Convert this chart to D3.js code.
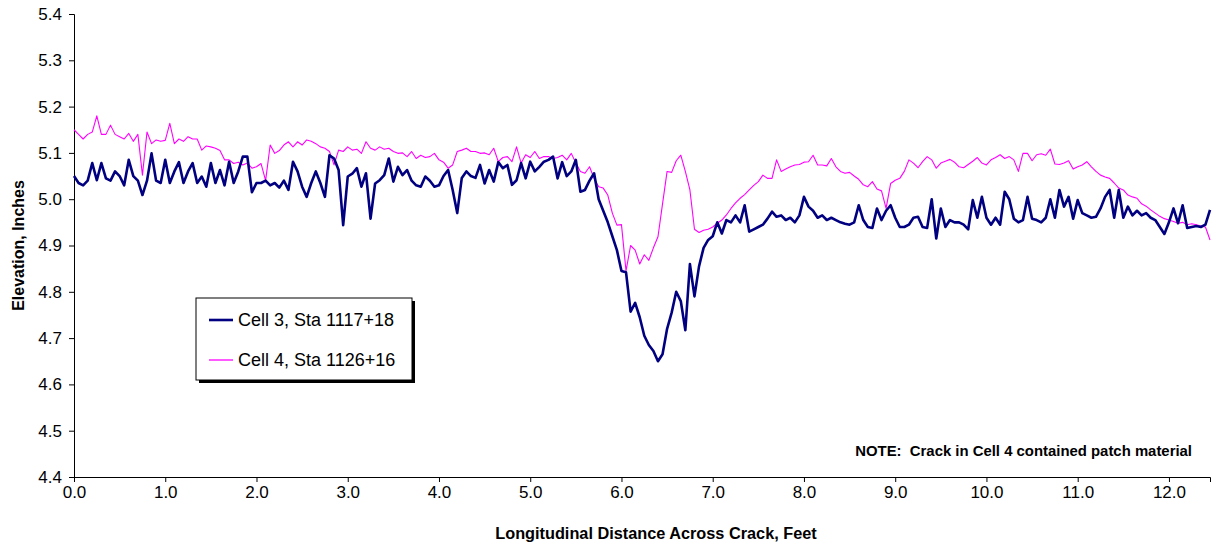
<!DOCTYPE html>
<html>
<head>
<meta charset="utf-8">
<script src="https://cdn.jsdelivr.net/npm/d3@7"></script>
<style>
  body { margin: 0; background: #fff; }
  svg { display: block; font-family: "Liberation Sans", Arial, sans-serif; }
  .axis path, .axis line { stroke: #000; }
  .axis text { font-size: 17px; fill: #000; }
</style>
</head>
<body>
<svg id="chart" width="1212" height="548"></svg>
<script>
// sample spacing along the profile, feet
const step = 0.05;

// Cell 3, Sta 1117+18 (elevation, inches) from 0.00 to 12.45 ft
const cell3 = [
  5.05, 5.035, 5.03, 5.04, 5.078, 5.041, 5.078, 5.045, 5.04, 5.06,
  5.05, 5.03, 5.085, 5.05, 5.04, 5.009, 5.04, 5.099, 5.04, 5.035,
  5.085, 5.035, 5.06, 5.08, 5.035, 5.06, 5.078, 5.035, 5.049, 5.027,
  5.078, 5.035, 5.063, 5.03, 5.081, 5.035, 5.06, 5.092, 5.092, 5.015,
  5.035, 5.035, 5.04, 5.03, 5.035, 5.025, 5.04, 5.02, 5.081, 5.06,
  5.027, 5.005, 5.035, 5.06, 5.035, 5.005, 5.095, 5.088, 5.063, 4.944,
  5.049, 5.055, 5.067, 5.027, 5.056, 4.958, 5.034, 5.041, 5.052, 5.088,
  5.038, 5.07, 5.052, 5.063, 5.04, 5.03, 5.027, 5.049, 5.04, 5.027,
  5.03, 5.05, 5.063, 5.02, 4.97, 5.046, 5.06, 5.05, 5.046, 5.074,
  5.034, 5.063, 5.038, 5.08, 5.067, 5.074, 5.031, 5.041, 5.078, 5.045,
  5.081, 5.06, 5.07, 5.081, 5.085, 5.092, 5.045, 5.08, 5.05, 5.06,
  5.085, 5.016, 5.02, 5.04, 5.056, 5.0, 4.975, 4.95, 4.92, 4.89,
  4.845, 4.842, 4.757, 4.776, 4.745, 4.705, 4.685, 4.672, 4.65, 4.665,
  4.72, 4.755, 4.80, 4.78, 4.717, 4.86, 4.79, 4.855, 4.895, 4.912,
  4.92, 4.95, 4.926, 4.955, 4.95, 4.965, 4.95, 4.987, 4.93, 4.935,
  4.94, 4.945, 4.958, 4.973, 4.962, 4.965, 4.955, 4.96, 4.95, 4.965,
  5.005, 4.984, 4.975, 4.96, 4.965, 4.955, 4.96, 4.955, 4.95, 4.947,
  4.945, 4.95, 4.987, 4.955, 4.94, 4.938, 4.98, 4.955, 4.975, 4.987,
  4.96, 4.94, 4.94, 4.945, 4.96, 4.962, 4.94, 4.938, 5.0, 4.915,
  4.98, 4.94, 4.955, 4.95, 4.95, 4.945, 4.935, 4.998, 4.96, 5.005,
  4.96, 4.945, 4.96, 4.945, 5.016, 5.0, 4.958, 4.95, 4.955, 5.005,
  4.958, 4.955, 4.95, 4.96, 5.0, 4.96, 5.02, 4.984, 5.005, 4.958,
  4.998, 4.97, 4.965, 4.96, 4.962, 4.98, 5.005, 5.02, 4.96, 5.02,
  4.96, 4.984, 4.965, 4.975, 4.965, 4.97, 4.96, 4.955, 4.94, 4.925,
  4.95, 4.98, 4.948, 4.987, 4.938, 4.94, 4.942, 4.94, 4.945, 4.977
];

// Cell 4, Sta 1126+16 (elevation, inches) from 0.00 to 12.45 ft
const cell4 = [
  5.15, 5.14, 5.13, 5.14, 5.145, 5.18, 5.14, 5.14, 5.16, 5.14,
  5.135, 5.13, 5.142, 5.125, 5.14, 5.052, 5.145, 5.12, 5.128, 5.125,
  5.127, 5.164, 5.12, 5.13, 5.125, 5.135, 5.13, 5.13, 5.106, 5.115,
  5.113, 5.11, 5.105, 5.085, 5.085, 5.077, 5.08, 5.074, 5.078, 5.067,
  5.07, 5.077, 5.04, 5.117, 5.099, 5.105, 5.117, 5.124, 5.113, 5.124,
  5.117, 5.128, 5.125, 5.12, 5.113, 5.11, 5.103, 5.074, 5.106, 5.103,
  5.113, 5.106, 5.108, 5.099, 5.124, 5.11, 5.106, 5.113, 5.108, 5.11,
  5.103, 5.099, 5.1, 5.092, 5.103, 5.088, 5.095, 5.09, 5.092, 5.099,
  5.085, 5.08, 5.067, 5.074, 5.103, 5.106, 5.11, 5.103, 5.103, 5.099,
  5.1, 5.096, 5.11, 5.081, 5.09, 5.092, 5.081, 5.113, 5.078, 5.096,
  5.09, 5.103, 5.088, 5.092, 5.092, 5.088, 5.09, 5.095, 5.085, 5.099,
  5.078, 5.06, 5.056, 5.07, 5.045, 5.027, 5.024, 5.009, 4.97, 4.944,
  4.945, 4.845, 4.9, 4.89, 4.86, 4.88, 4.868, 4.895, 4.919, 4.99,
  5.06, 5.058, 5.083, 5.095, 5.06, 5.02, 4.935, 4.928, 4.933, 4.935,
  4.94, 4.948, 4.955, 4.966, 4.98, 4.992, 5.002, 5.01, 5.02, 5.03,
  5.038, 5.052, 5.045, 5.045, 5.085, 5.06, 5.065, 5.07, 5.074, 5.075,
  5.08, 5.081, 5.095, 5.074, 5.074, 5.072, 5.088, 5.07, 5.06, 5.056,
  5.058, 5.05, 5.043, 5.031, 5.027, 5.038, 5.022, 5.018, 4.98, 5.034,
  5.041, 5.045, 5.06, 5.085, 5.078, 5.068, 5.081, 5.092, 5.085, 5.067,
  5.078, 5.082, 5.086, 5.08, 5.07, 5.068, 5.075, 5.082, 5.09, 5.078,
  5.074, 5.085, 5.09, 5.096, 5.088, 5.092, 5.085, 5.06, 5.099, 5.099,
  5.083, 5.096, 5.098, 5.095, 5.108, 5.076, 5.075, 5.078, 5.083, 5.065,
  5.07, 5.074, 5.081, 5.07, 5.06, 5.052, 5.048, 5.045, 5.035, 5.024,
  5.02, 5.009, 5.005, 5.002, 4.99, 4.985, 4.977, 4.97, 4.963, 4.958,
  4.955, 4.952, 4.948, 4.95, 4.945, 4.947, 4.945, 4.942, 4.94, 4.912
];

const xTicks = d3.range(0, 13, 1);
const yTicks = [4.4, 4.5, 4.6, 4.7, 4.8, 4.9, 5.0, 5.1, 5.2, 5.3, 5.4];

const seriesNames = ["Cell 3, Sta 1117+18", "Cell 4, Sta 1126+16"];
const seriesColors = ["#000080", "#ff00ff"];
const seriesWidths = [2.6, 1.1];

const svg = d3.select("#chart");
const margin = { left: 74, right: 2, top: 14, bottom: 71 };
const width = +svg.attr("width");
const height = +svg.attr("height");

const x = d3.scaleLinear()
  .domain([0, 12.45])
  .range([margin.left, width - margin.right]);
const y = d3.scaleLinear()
  .domain([4.4, 5.4])
  .range([height - margin.bottom, margin.top]);

const fmt = d3.format(".1f");

svg.append("g")
  .attr("class", "axis")
  .attr("transform", `translate(0,${height - margin.bottom})`)
  .call(d3.axisBottom(x).tickValues(xTicks).tickFormat(fmt).tickSizeOuter(0).tickSize(5).tickPadding(4));

svg.append("g")
  .attr("class", "axis")
  .attr("transform", `translate(${margin.left},0)`)
  .call(d3.axisLeft(y).tickValues(yTicks).tickFormat(fmt).tickSizeOuter(0).tickSize(5).tickPadding(7));

const line = d3.line()
  .x((d, i) => x(i * step))
  .y(d => y(d));

// draw cell 4 first so cell 3 sits over it
[cell4, cell3].forEach((s, k) => {
  const idx = 1 - k;
  svg.append("path")
    .datum(s)
    .attr("fill", "none")
    .attr("stroke", seriesColors[idx])
    .attr("stroke-width", seriesWidths[idx])
    .attr("stroke-linejoin", "round")
    .attr("d", line);
});

// axis titles
svg.append("text")
  .attr("x", 656)
  .attr("y", 539)
  .attr("text-anchor", "middle")
  .style("font-size", "16.3px")
  .style("font-weight", "bold")
  .text("Longitudinal Distance Across Crack, Feet");

svg.append("text")
  .attr("transform", `translate(24,${(margin.top + height - margin.bottom) / 2}) rotate(-90)`)
  .attr("text-anchor", "middle")
  .style("font-size", "16px")
  .style("font-weight", "bold")
  .text("Elevation, Inches");

// note
svg.append("text")
  .attr("x", 1192)
  .attr("y", 456)
  .attr("text-anchor", "end")
  .style("font-size", "14.9px")
  .style("font-weight", "bold")
  .style("white-space", "pre")
  .text("NOTE:  Crack in Cell 4 contained patch material");

// legend
const legend = svg.append("g").attr("transform", "translate(196,298)");
legend.append("rect")
  .attr("x", 3).attr("y", 3)
  .attr("width", 216).attr("height", 82)
  .attr("fill", "#000");
legend.append("rect")
  .attr("width", 216).attr("height", 82)
  .attr("fill", "#fff")
  .attr("stroke", "#000")
  .attr("stroke-width", 1);

seriesNames.forEach((name, i) => {
  const ly = 22 + i * 40;
  legend.append("line")
    .attr("x1", 13).attr("x2", 37)
    .attr("y1", ly).attr("y2", ly)
    .attr("stroke", seriesColors[i])
    .attr("stroke-width", i === 0 ? 2.6 : 1.3);
  legend.append("text")
    .attr("x", 42).attr("y", ly + 6)
    .style("font-size", "18px")
    .text(name);
});
</script>
</body>
</html>
